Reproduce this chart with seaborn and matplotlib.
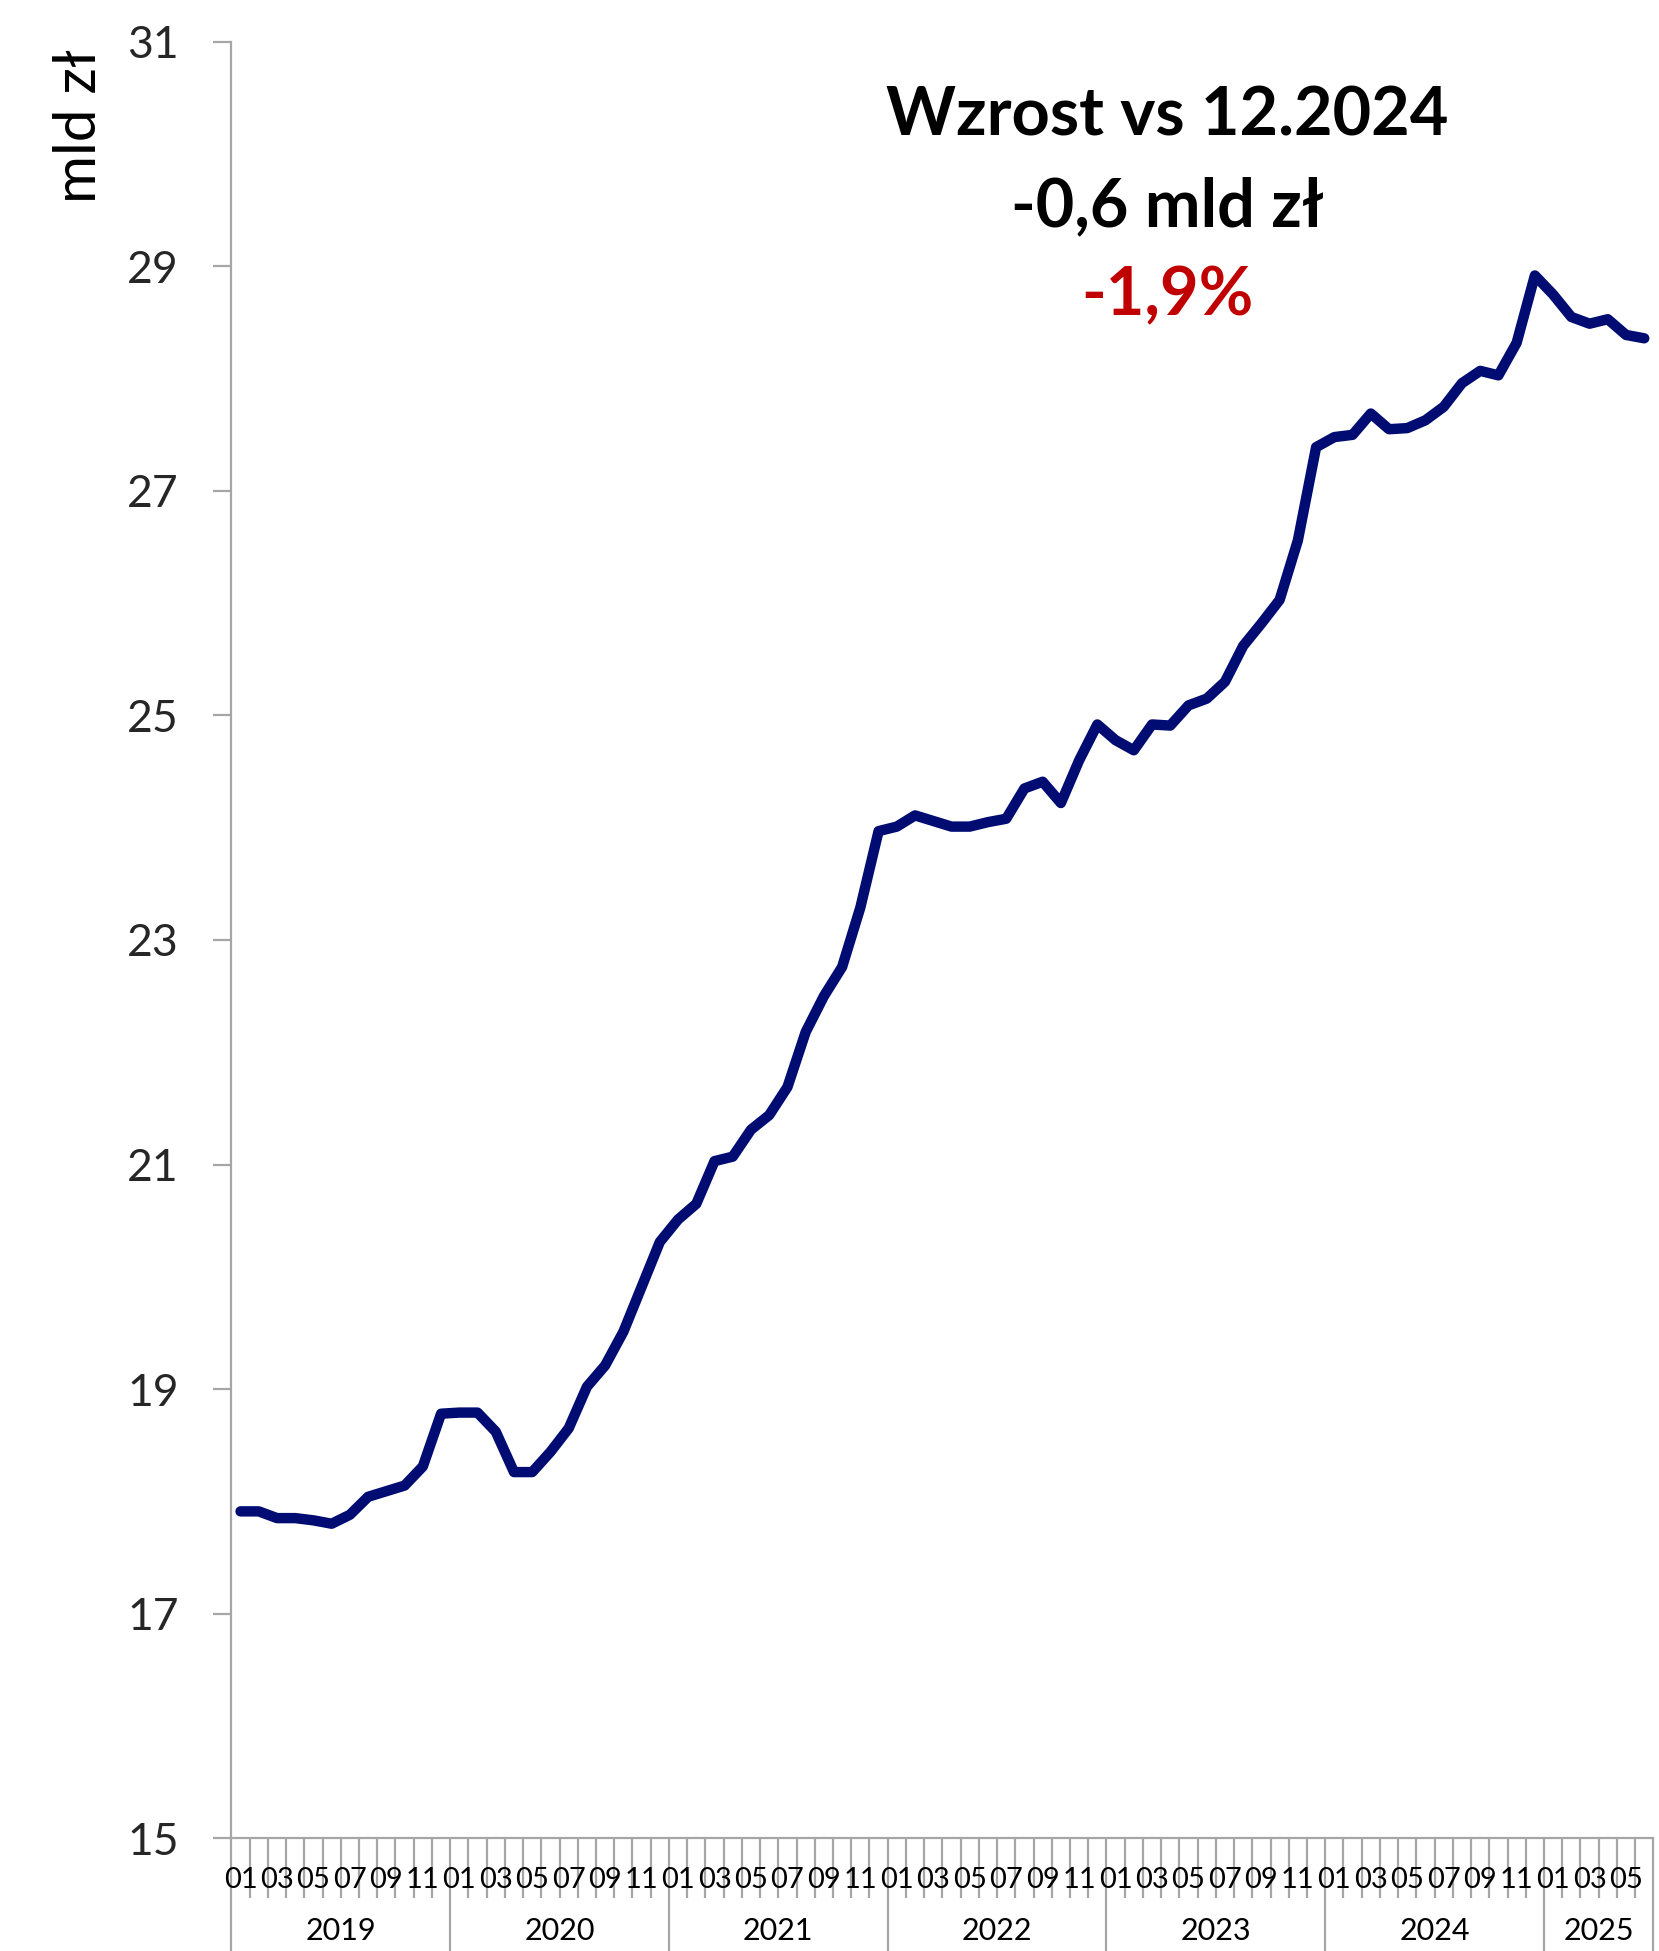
import numpy as np
import pandas as pd
import matplotlib
matplotlib.use("Agg")
import matplotlib.pyplot as plt
import seaborn as sns

# monthly values, mld zł, 2019-01 .. 2025-06
years = ["2019", "2020", "2021", "2022", "2023", "2024", "2025"]
months_per_year = [12, 12, 12, 12, 12, 12, 6]
values = [
    17.91, 17.91, 17.85, 17.85, 17.83, 17.80, 17.88, 18.04, 18.09, 18.14, 18.31, 18.78,
    18.79, 18.79, 18.62, 18.26, 18.26, 18.44, 18.65, 19.02, 19.21, 19.51, 19.91, 20.31,
    20.51, 20.65, 21.03, 21.07, 21.31, 21.44, 21.69, 22.18, 22.50, 22.76, 23.29, 23.97,
    24.01, 24.11, 24.06, 24.01, 24.01, 24.05, 24.08, 24.35, 24.41, 24.22, 24.60, 24.92,
    24.78, 24.69, 24.92, 24.91, 25.09, 25.15, 25.30, 25.62, 25.82, 26.03, 26.56, 27.39,
    27.48, 27.50, 27.69, 27.55, 27.56, 27.63, 27.75, 27.96, 28.07, 28.03, 28.32, 28.92,
    28.75, 28.55, 28.49, 28.53, 28.39, 28.36,
]
y_ticks = [15, 17, 19, 21, 23, 25, 27, 29, 31]
title_lines = ["Wzrost vs 12.2024", "-0,6 mld zł"]
change_pct = "-1,9%"

# build month labels from the year list
month_labels = []
for n in months_per_year:
    month_labels += ["%02d" % (m + 1) for m in range(n)]

df = pd.DataFrame({"pos": np.arange(len(values)) + 0.5, "value": values})

sns.set_theme(style="white")
plt.rcParams["font.family"] = ["Lato", "DejaVu Sans"]

fig = plt.figure(figsize=(16.59, 19.51), dpi=100)
ax = fig.add_axes([0.1395, 0.0579, 0.8571, 0.9206])

sns.lineplot(data=df, x="pos", y="value", color="#000C72", linewidth=7.5, ax=ax)
ax.lines[0].set_solid_capstyle("round")

grey = "#A6A6A6"
n = len(values)
ax.set_xlim(0, n)
ax.set_ylim(15, 31)
ax.set_yticks(y_ticks)
ax.set_yticklabels([str(t) for t in y_ticks])
ax.set_xlabel("")
ax.set_ylabel("")

for side in ["top", "right"]:
    ax.spines[side].set_visible(False)
for side in ["left", "bottom"]:
    ax.spines[side].set_color(grey)
    ax.spines[side].set_linewidth(1.6)

# year separators as long major ticks, month boundaries as minor ticks
bounds = np.cumsum([0] + months_per_year)
ax.set_xticks(bounds)
ax.set_xticklabels([])
ax.set_xticks(np.arange(n + 1), minor=True)
ax.tick_params(axis="x", which="major", direction="out", length=82, width=1.6,
               color=grey, bottom=True)
ax.tick_params(axis="x", which="minor", direction="out", length=43, width=1.6,
               color=grey, bottom=True)
ax.tick_params(axis="y", direction="out", length=13, width=1.6, color=grey,
               labelsize=32, pad=25, left=True)

trans = ax.get_xaxis_transform()
for i, lab in enumerate(month_labels):
    if i % 2 == 0:
        ax.text(i + 0.5, -0.0236, lab, transform=trans, ha="center", va="center",
                fontsize=21, color="black", clip_on=False)
for k, yr in enumerate(years):
    ax.text((bounds[k] + bounds[k + 1]) / 2, -0.0515, yr, transform=trans,
            ha="center", va="center", fontsize=22, color="black", clip_on=False)

fig.text(80 / 1659, 1 - 126 / 1951, "mld zł", rotation=90, ha="center", va="center",
         fontsize=42, color="black")

fig.text(0.7035, 1 - 116 / 1951, title_lines[0], ha="center", va="center",
         fontsize=48, fontweight="bold", color="black")
fig.text(0.7035, 1 - 207 / 1951, title_lines[1], ha="center", va="center",
         fontsize=48, fontweight="bold", color="black")
fig.text(0.7035, 1 - 296 / 1951, change_pct, ha="center", va="center",
         fontsize=48, fontweight="bold", color="#C00000")

fig.savefig("out.png", dpi=100)
